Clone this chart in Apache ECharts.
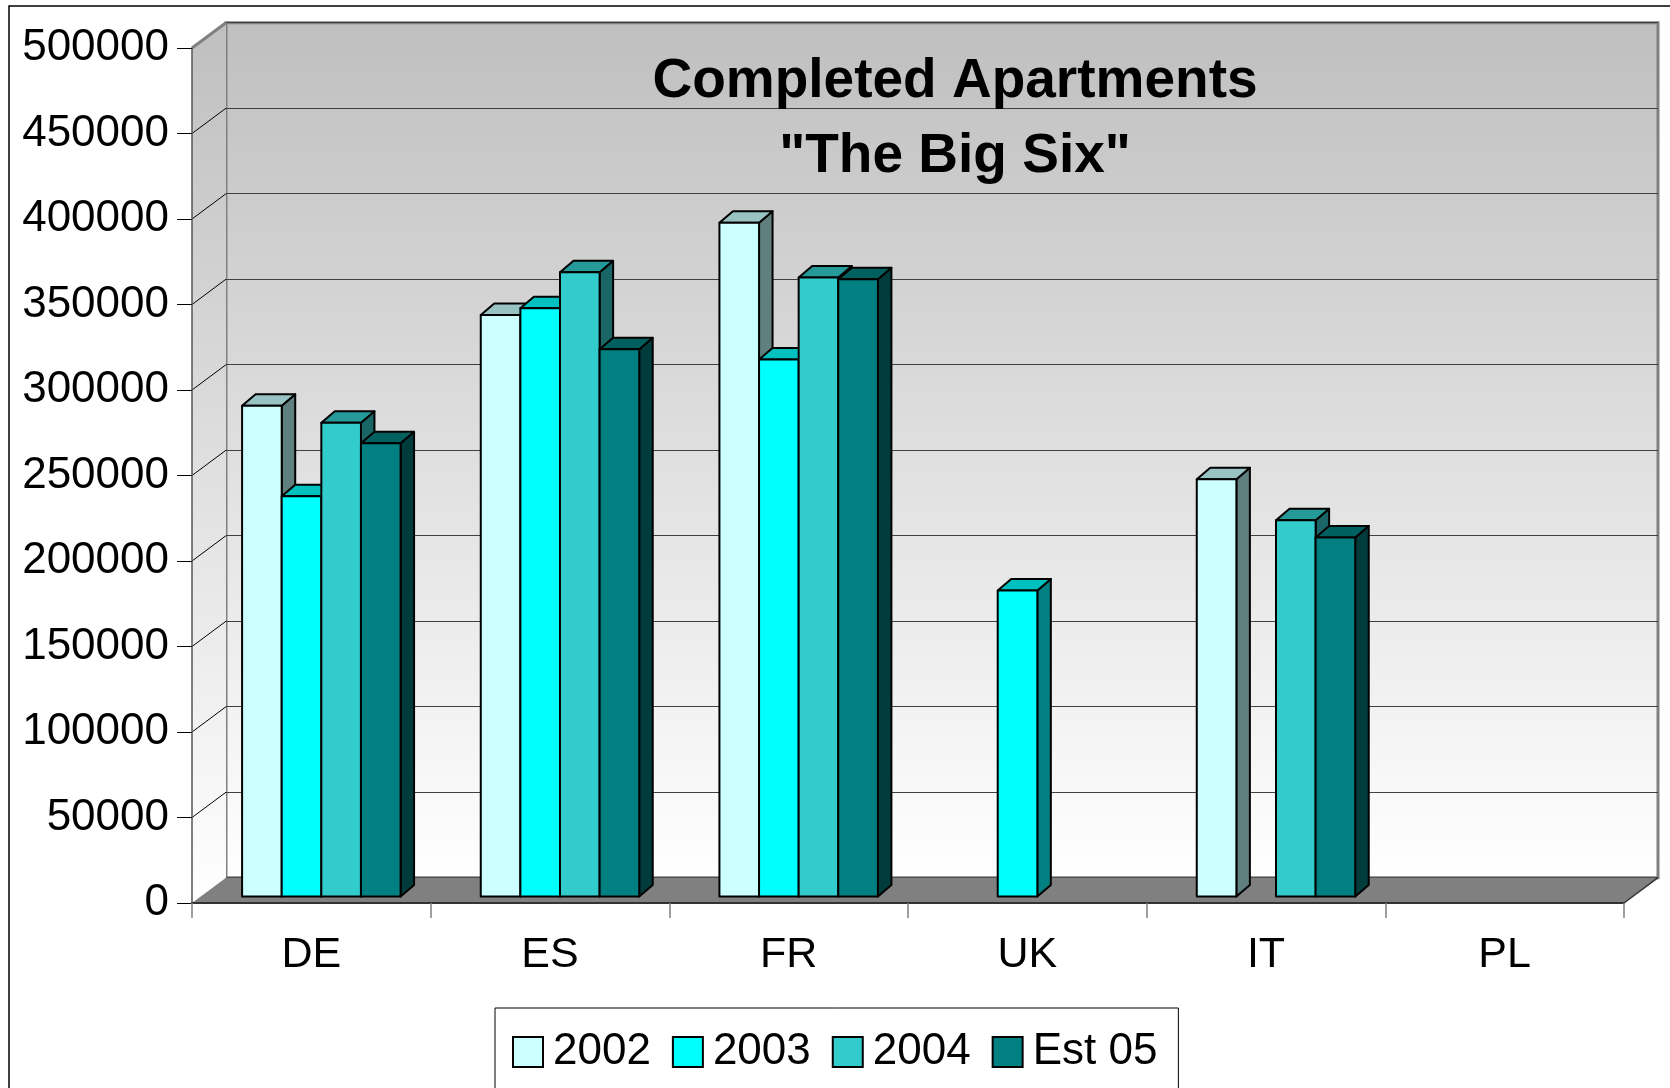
<!DOCTYPE html>
<html><head><meta charset="utf-8">
<script src="https://cdn.jsdelivr.net/npm/echarts@6/dist/echarts.min.js"></script>
<style>html,body{margin:0;padding:0;background:#fff}#c{width:1670px;height:1088px}</style>
</head><body><div id="c"></div>
<script>
// ---- data ----
const categories = ['DE', 'ES', 'FR', 'UK', 'IT', 'PL'];
const seriesNames = ['2002', '2003', '2004', 'Est 05'];
const v2002  = [287000, 340000, 394000, null,   244000, null];
const v2003  = [234000, 344000, 314000, 179000, null,   null];
const v2004  = [277000, 365000, 362000, null,   220000, null];
const vEst05 = [265000, 320000, 361000, null,   210000, null];
const yTicks = [0, 50000, 100000, 150000, 200000, 250000, 300000, 350000, 400000, 450000, 500000];
const titleLines = ['Completed Apartments', '"The Big Six"'];

// ---- style ----
const FRONT = ['#CCFFFF', '#00FFFF', '#33CCCC', '#008080'];
const TOPC  = ['#99C2C2', '#00C0C0', '#269999', '#006060'];
const SIDE  = ['#608080', '#008080', '#1A6666', '#003C3C'];
const FONT = '"Liberation Sans", Arial, sans-serif';
const G = {left: 192, top: 48, right: 46, bottom: 185};
const WDX = 34, WDY = -25.3;
const BOX = 10, BOY = -6.5, BDX = 13.5, BDY = -11.5;
const GROUP_RATIO = 0.664;

const allValues = [v2002, v2003, v2004, vEst05];

function wallGrad() {
  return new echarts.graphic.LinearGradient(0, 0, 0, 1, [
    {offset: 0, color: '#bfbfbf'}, {offset: 1, color: '#ffffff'}
  ]);
}

function makeBarRender(i) {
  return function (params, api) {
    const cat = api.value(0), val = api.value(1);
    const base = api.coord([cat, 0]);
    const top = api.coord([cat, val]);
    const band = api.size([1, 0])[0];
    const gw = band * GROUP_RATIO, bw = gw / 4;
    const x0 = base[0] - gw / 2 + i * bw + BOX, x1 = x0 + bw;
    const yb = base[1] + BOY, yt = top[1] + BOY;
    const st = {stroke: '#000', lineWidth: 2, lineJoin: 'round'};
    return {type: 'group', children: [
      {type: 'polygon', shape: {points: [[x1, yt], [x1 + BDX, yt + BDY], [x1 + BDX, yb + BDY], [x1, yb]]},
        style: Object.assign({fill: SIDE[i]}, st)},
      {type: 'polygon', shape: {points: [[x0, yt], [x0 + BDX, yt + BDY], [x1 + BDX, yt + BDY], [x1, yt]]},
        style: Object.assign({fill: TOPC[i]}, st)},
      {type: 'rect', shape: {x: x0, y: yt, width: bw, height: yb - yt},
        style: Object.assign({fill: FRONT[i]}, st)}
    ]};
  };
}

function wallsRender(params, api) {
  const cs = params.coordSys;
  const x = cs.x, y = cs.y, w = cs.width, h = cs.height;
  const ch = [];
  ch.push({type: 'polygon', shape: {points: [[x, y], [x + WDX, y + WDY], [x + WDX, y + h + WDY], [x, y + h]]},
    style: {fill: wallGrad()}});
  yTicks.forEach(function (v, k) {
    if (k === 0 || k === yTicks.length - 1) return;
    const p = api.coord([0, v]);
    ch.push({type: 'line', shape: {x1: x, y1: p[1], x2: x + WDX, y2: p[1] + WDY},
      style: {stroke: '#000', lineWidth: 1}});
  });
  ch.push({type: 'line', shape: {x1: x, y1: y, x2: x + WDX, y2: y + WDY},
    style: {stroke: '#808080', lineWidth: 3}});
  ch.push({type: 'polygon', shape: {points: [[x, y + h], [x + WDX, y + h + WDY], [x + w + WDX, y + h + WDY], [x + w, y + h]]},
    style: {fill: '#808080'}});
  ch.push({type: 'line', shape: {x1: x + w, y1: y + h, x2: x + w + WDX, y2: y + h + WDY},
    style: {stroke: '#333', lineWidth: 1.5}});
  return {type: 'group', children: ch};
}

const barSeries = seriesNames.map(function (name, i) {
  const data = [];
  allValues[i].forEach(function (v, j) { if (v != null) data.push([j, v]); });
  return {
    type: 'custom', name: name, xAxisIndex: 0, yAxisIndex: 0, z: 3 + i,
    itemStyle: {color: FRONT[i]},
    encode: {x: 0, y: 1},
    renderItem: makeBarRender(i),
    data: data
  };
});

const chart = echarts.init(document.getElementById('c'), null, {renderer: 'canvas'});
chart.setOption({
  animation: false,
  backgroundColor: '#fff',
  title: {
    text: titleLines.join('\n'),
    left: 955, top: 44, textAlign: 'center', padding: 0,
    textStyle: {fontFamily: FONT, fontSize: 55, fontWeight: 'bold', color: '#000', lineHeight: 75}
  },
  legend: {
    left: 495, top: 1008, orient: 'horizontal', icon: 'rect',
    itemWidth: 30, itemHeight: 30, itemGap: 21,
    padding: [22, 21, 40, 17], backgroundColor: '#fff', borderColor: '#000', borderWidth: 1, borderRadius: 0,
    textStyle: {fontSize: 44, color: '#000', fontFamily: FONT, padding: [0, 0, 0, 5]},
    data: seriesNames.map(function (n, i) {
      return {name: n, itemStyle: {color: FRONT[i], borderColor: '#000', borderWidth: 2}};
    })
  },
  grid: [
    {left: G.left, top: G.top, right: G.right, bottom: G.bottom, show: false},
    {left: G.left + WDX, top: G.top + WDY, right: G.right - WDX, bottom: G.bottom - WDY,
      show: true, backgroundColor: wallGrad(), borderColor: '#808080', borderWidth: 3}
  ],
  xAxis: [
    {type: 'category', gridIndex: 0, data: categories, z: 10,
      axisLine: {show: true, lineStyle: {color: '#333', width: 2}},
      axisTick: {show: true, length: 15, lineStyle: {color: '#808080', width: 1.5}},
      axisLabel: {fontSize: 43, color: '#000', fontFamily: FONT, margin: 31},
      splitLine: {show: false}},
    {type: 'category', gridIndex: 1, data: categories, show: false}
  ],
  yAxis: [
    {type: 'value', gridIndex: 0, min: 0, max: 500000, interval: 50000, z: 10,
      axisLine: {show: true, lineStyle: {color: '#555', width: 1.5}},
      axisTick: {show: true, length: 15, lineStyle: {color: '#000', width: 1}},
      axisLabel: {fontSize: 44, color: '#000', fontFamily: FONT, margin: 23,
        formatter: function (v) { return String(v); }},
      splitLine: {show: false}},
    {type: 'value', gridIndex: 1, min: 0, max: 500000, interval: 50000,
      axisLine: {show: false}, axisTick: {show: false}, axisLabel: {show: false},
      splitLine: {show: true, lineStyle: {color: '#404040', width: 1}}}
  ],
  graphic: [
    {type: 'rect', shape: {x: 9, y: 6, width: 1700, height: 1100},
      style: {fill: 'none', stroke: '#000', lineWidth: 1.5}, z: 100, silent: true}
  ],
  series: [
    {type: 'custom', name: 'walls', xAxisIndex: 0, yAxisIndex: 0, z: 1, silent: true,
      renderItem: wallsRender, data: [[0, 0]]}
  ].concat(barSeries)
});
</script>
</body></html>
